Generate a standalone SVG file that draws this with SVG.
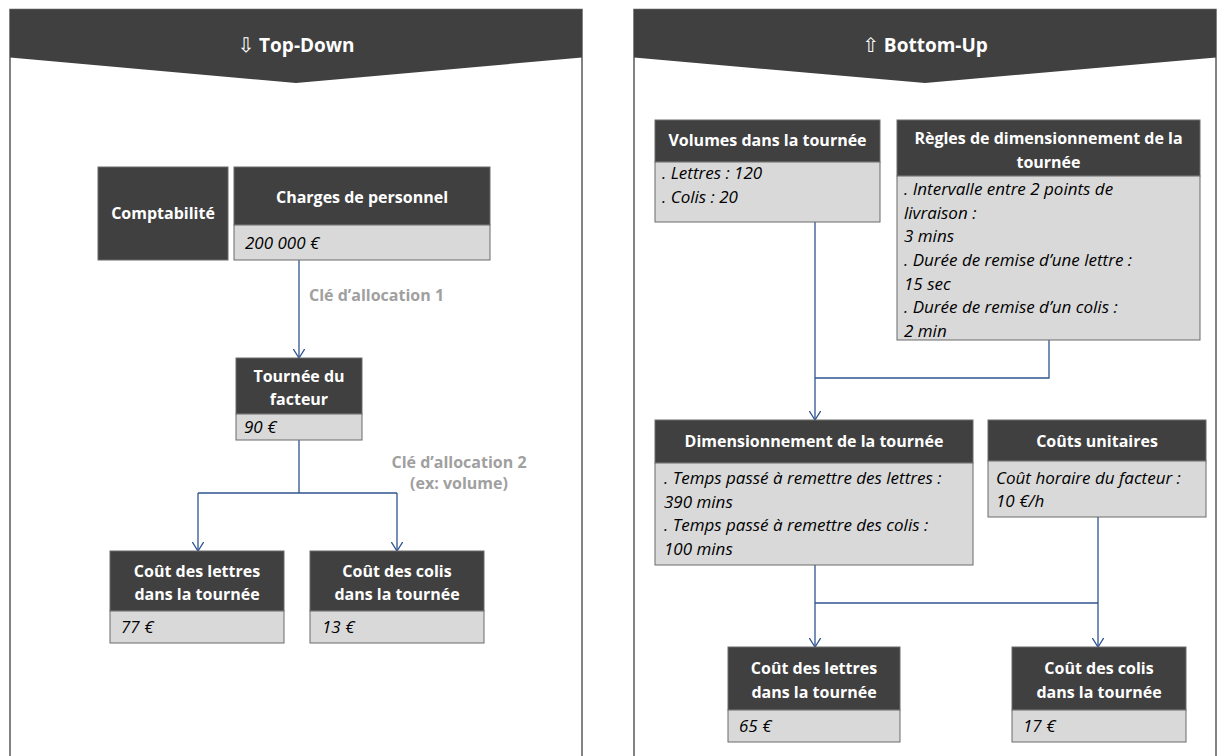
<svg xmlns="http://www.w3.org/2000/svg" width="1218" height="756" viewBox="0 0 1218 756">
  <style>
    .panel { fill: #ffffff; stroke: #5a5a5a; stroke-width: 1.5; }
    .band { fill: #404040; }
    .title { font-family: "Open Sans", "Liberation Sans", "DejaVu Sans", sans-serif; font-weight: bold; font-size: 19px; fill: #ffffff; text-anchor: middle; }
    .glyph { font-family: "DejaVu Sans", sans-serif; font-weight: normal; font-size: 20px; }
    .hd { fill: #404040; stroke: #6b6b6b; stroke-width: 1; }
    .bd { fill: #d9d9d9; stroke: #6b6b6b; stroke-width: 1; }
    .ht { font-family: "Open Sans", "Liberation Sans", sans-serif; font-weight: bold; font-size: 16px; fill: #ffffff; text-anchor: middle; }
    .bt { font-family: "Open Sans", "Liberation Sans", sans-serif; font-style: italic; font-size: 17px; fill: #000000; }
    .lbl { font-family: "Open Sans", "Liberation Sans", sans-serif; font-weight: bold; font-size: 16px; fill: #a0a0a0; }
    .wire { fill: none; stroke: #2f5490; stroke-width: 1.3; }
  </style>
  <defs>
    <marker id="vhead" viewBox="0 0 10 12" refX="9.5" refY="6" markerWidth="10" markerHeight="12" markerUnits="userSpaceOnUse" orient="auto">
      <path d="M0,0 L9.5,6 L0,12" fill="none" stroke="#2f5490" stroke-width="1.3"/>
    </marker>
    <clipPath id="clipRegles">
      <rect x="897" y="176" width="303" height="164"/>
    </clipPath>
  </defs>

  <!-- Panels -->
  <g id="panel-topdown">
    <rect class="panel" x="10" y="9.5" width="572" height="780"/>
    <path class="band" d="M10,9.5 H582 V57.5 L296,83 L10,57.5 Z"/>
    <text class="title" x="296" y="52"><tspan class="glyph">⇩</tspan> Top-Down</text>
  </g>
  <g id="panel-bottomup">
    <rect class="panel" x="634" y="9.5" width="582" height="780"/>
    <path class="band" d="M634,9.5 H1216 V57.5 L925,83 L634,57.5 Z"/>
    <text class="title" x="925" y="52"><tspan class="glyph">⇧</tspan> Bottom-Up</text>
  </g>

  <!-- Connectors -->
  <g id="connectors">
    <path class="wire" d="M299,260 V358" marker-end="url(#vhead)"/>
    <path class="wire" d="M299,440 V493 M198,493 H397"/>
    <path class="wire" d="M198,493 V551" marker-end="url(#vhead)"/>
    <path class="wire" d="M397,493 V551" marker-end="url(#vhead)"/>

    <path class="wire" d="M815,222 V420" marker-end="url(#vhead)"/>
    <path class="wire" d="M1049,340 V378 H815"/>
    <path class="wire" d="M815,565 V647" marker-end="url(#vhead)"/>
    <path class="wire" d="M1098,517 V647" marker-end="url(#vhead)"/>
    <path class="wire" d="M815,603 H1098"/>
  </g>

  <!-- Connector labels -->
  <g id="labels">
    <text class="lbl" x="309" y="301">Clé d’allocation 1</text>
    <text class="lbl" x="459" y="468" text-anchor="middle">Clé d’allocation 2</text>
    <text class="lbl" x="459" y="489" text-anchor="middle">(ex: volume)</text>
  </g>

  <!-- Top-Down nodes -->
  <g id="comptabilite">
    <rect class="hd" x="98" y="167" width="130" height="93"/>
    <text class="ht" x="163" y="219">Comptabilité</text>
  </g>
  <g id="charges-personnel">
    <rect class="hd" x="234" y="167" width="256" height="58"/>
    <rect class="bd" x="234" y="225" width="256" height="35"/>
    <text class="ht" x="362" y="203">Charges de personnel</text>
    <text class="bt" x="245" y="249">200 000 €</text>
  </g>
  <g id="tournee-facteur">
    <rect class="hd" x="236" y="358" width="126" height="56"/>
    <rect class="bd" x="236" y="414" width="126" height="26"/>
    <text class="ht" x="299" y="382">Tournée du</text>
    <text class="ht" x="299" y="405">facteur</text>
    <text class="bt" x="244" y="433">90 €</text>
  </g>
  <g id="td-cout-lettres">
    <rect class="hd" x="110" y="551" width="174" height="60"/>
    <rect class="bd" x="110" y="611" width="174" height="32"/>
    <text class="ht" x="197" y="577">Coût des lettres</text>
    <text class="ht" x="197" y="600">dans la tournée</text>
    <text class="bt" x="121" y="633">77 €</text>
  </g>
  <g id="td-cout-colis">
    <rect class="hd" x="310" y="551" width="174" height="60"/>
    <rect class="bd" x="310" y="611" width="174" height="32"/>
    <text class="ht" x="397" y="577">Coût des colis</text>
    <text class="ht" x="397" y="600">dans la tournée</text>
    <text class="bt" x="322" y="633">13 €</text>
  </g>

  <!-- Bottom-Up nodes -->
  <g id="volumes">
    <rect class="hd" x="655" y="120" width="225" height="42"/>
    <rect class="bd" x="655" y="162" width="225" height="60"/>
    <text class="ht" x="767.5" y="146">Volumes dans la tournée</text>
    <text class="bt" x="662" y="179">. Lettres : 120</text>
    <text class="bt" x="662" y="203">. Colis : 20</text>
  </g>
  <g id="regles">
    <rect class="hd" x="897" y="120" width="303" height="56"/>
    <rect class="bd" x="897" y="176" width="303" height="164"/>
    <text class="ht" x="1048.5" y="144">Règles de dimensionnement de la</text>
    <text class="ht" x="1048.5" y="168">tournée</text>
    <g clip-path="url(#clipRegles)">
      <text class="bt" x="904" y="195">. Intervalle entre 2 points de</text>
      <text class="bt" x="904" y="219">livraison :</text>
      <text class="bt" x="904" y="242">3 mins</text>
      <text class="bt" x="904" y="266">. Durée de remise d’une lettre :</text>
      <text class="bt" x="904" y="290">15 sec</text>
      <text class="bt" x="904" y="313">. Durée de remise d’un colis :</text>
      <text class="bt" x="904" y="337">2 min</text>
    </g>
  </g>
  <g id="dimensionnement">
    <rect class="hd" x="655" y="420" width="318" height="43"/>
    <rect class="bd" x="655" y="463" width="318" height="102"/>
    <text class="ht" x="814" y="447">Dimensionnement de la tournée</text>
    <text class="bt" x="664" y="484">. Temps passé à remettre des lettres :</text>
    <text class="bt" x="664" y="508">390 mins</text>
    <text class="bt" x="664" y="531">. Temps passé à remettre des colis :</text>
    <text class="bt" x="664" y="555">100 mins</text>
  </g>
  <g id="couts-unitaires">
    <rect class="hd" x="988" y="420" width="218" height="41"/>
    <rect class="bd" x="988" y="461" width="218" height="56"/>
    <text class="ht" x="1097" y="447">Coûts unitaires</text>
    <text class="bt" x="996" y="484">Coût horaire du facteur :</text>
    <text class="bt" x="996" y="507">10 €/h</text>
  </g>
  <g id="bu-cout-lettres">
    <rect class="hd" x="728" y="647" width="172" height="63"/>
    <rect class="bd" x="728" y="710" width="172" height="32"/>
    <text class="ht" x="814" y="674">Coût des lettres</text>
    <text class="ht" x="814" y="698">dans la tournée</text>
    <text class="bt" x="739" y="732">65 €</text>
  </g>
  <g id="bu-cout-colis">
    <rect class="hd" x="1012" y="647" width="174" height="63"/>
    <rect class="bd" x="1012" y="710" width="174" height="32"/>
    <text class="ht" x="1099" y="674">Coût des colis</text>
    <text class="ht" x="1099" y="698">dans la tournée</text>
    <text class="bt" x="1023" y="732">17 €</text>
  </g>
</svg>
